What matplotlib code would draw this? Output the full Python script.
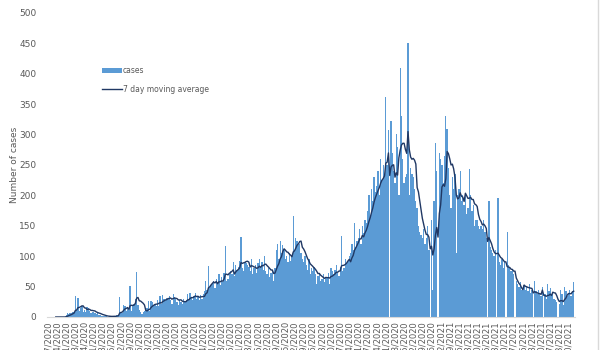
import matplotlib
matplotlib.use("Agg")
import matplotlib.pyplot as plt
import pandas as pd

# daily cases from 3/7/2020, one row per week
cases = [
    0, 0, 0, 0, 0, 0, 0,
    0, 0, 0, 0, 0, 0, 0,
    4, 6, 5, 7, 6, 8, 9,
    34, 12, 31, 10, 14, 18, 9,
    12, 8, 16, 14, 10, 7, 9,
    8, 6, 5, 7, 4, 3, 2,
    2, 1, 1, 2, 0, 1, 1,
    1, 2, 1, 2, 3, 4, 33,
    8, 6, 20, 18, 10, 14, 12,
    51, 10, 18, 22, 30, 74, 20,
    12, 8, 5, 9, 10, 12, 14,
    27, 10, 26, 25, 20, 22, 18,
    28, 18, 34, 22, 36, 30, 28,
    32, 30, 35, 28, 22, 38, 33,
    30, 25, 20, 28, 24, 22, 30,
    26, 28, 38, 30, 40, 32, 28,
    35, 40, 30, 34, 28, 36, 30,
    38, 42, 60, 45, 84, 48, 52,
    55, 60, 48, 62, 58, 70, 52,
    65, 58, 72, 116, 60, 62, 70,
    75, 70, 90, 68, 85, 78, 82,
    92, 132, 80, 75, 90, 88, 85,
    82, 76, 95, 70, 80, 85, 72,
    88, 95, 82, 90, 78, 100, 76,
    70, 80, 65, 72, 78, 60, 80,
    110, 120, 95, 125, 105, 118, 112,
    95, 100, 90, 105, 92, 100, 166,
    110, 130, 125, 118, 120, 105, 95,
    90, 100, 85, 78, 95, 70, 80,
    75, 82, 70, 55, 68, 72, 60,
    62, 70, 58, 66, 65, 72, 55,
    80, 75, 70, 78, 85, 72, 68,
    82, 133, 76, 80, 95, 88, 92,
    100, 105, 120, 110, 154, 115, 125,
    130, 145, 120, 150, 138, 160, 155,
    175, 200, 165, 210, 190, 230, 205,
    215, 240, 200, 260, 225, 250, 235,
    362, 250, 307, 0, 323, 270, 240,
    220, 301, 280, 200, 409, 330, 260,
    220, 230, 235, 451, 200, 245, 235,
    230, 210, 190, 180, 150, 140, 135,
    130, 145, 120, 130, 150, 110, 0,
    160, 44, 190, 286, 240, 0, 270,
    260, 250, 220, 265, 330, 310, 245,
    200, 180, 230, 210, 235, 105, 200,
    210, 240, 190, 200, 185, 200, 170,
    180, 243, 200, 175, 185, 150, 160,
    160, 150, 145, 150, 145, 160, 140,
    130, 0, 190, 115, 110, 105, 100,
    110, 0, 195, 90, 85, 95, 80,
    90, 0, 140, 85, 80, 75, 78,
    70, 0, 60, 55, 50, 58, 45,
    48, 52, 45, 50, 42, 55, 40,
    45, 0, 60, 42, 38, 45, 40,
    35, 50, 0, 38, 30, 55, 42,
    48, 35, 38, 30, 28, 25, 0,
    22, 45, 38, 20, 50, 42, 35,
    40, 45, 35, 42, 58,
]

start = pd.Timestamp("2020-03-07")
days = list(range(len(cases)))
moving_avg = pd.Series(cases).rolling(7).mean()

tick_days = list(range(0, len(cases), 7))
tick_labels = [(start + pd.Timedelta(days=d)).strftime("%-m/%-d/%Y") for d in tick_days]

grey = "#595959"
fig = plt.figure(figsize=(6, 3.5), dpi=100)
ax = fig.add_axes([47.3 / 600, 1 - 317 / 350, (575 - 47.3) / 600, (317 - 13) / 350])

bars = ax.bar(days, cases, width=1.0, color="#5b9bd5", linewidth=0, label="cases", zorder=2)
line, = ax.plot(days, moving_avg, color="#203864", lw=1.0, label="7 day moving average", zorder=3)

ax.set_xlim(-0.5, len(cases))
ax.set_ylim(0, 500)
ax.set_yticks(range(0, 501, 50))
ax.set_xticks(tick_days)
ax.set_xticklabels(tick_labels, rotation=90, fontsize=6, color=grey)
ax.tick_params(axis="y", labelsize=6.5, labelcolor=grey, length=0, pad=8)
ax.tick_params(axis="x", length=0, pad=3)
for s in ["top", "right", "left"]:
    ax.spines[s].set_visible(False)
ax.spines["bottom"].set_color("#d9d9d9")
fig.text(15 / 600, 1 - 165 / 350, "Number of cases", rotation=90, fontsize=6.5,
         color=grey, ha="center", va="center")

fig.legend([bars, line], ["cases", "7 day moving average"], loc="upper left",
           bbox_to_anchor=(0.158, 0.83), frameon=False,
           fontsize=5.5, labelcolor=grey, handlelength=2.6, handleheight=0.6,
           labelspacing=1.2, handletextpad=0.2)

# cell border seen at the right edge of the screenshot
fig.add_artist(plt.Line2D([598 / 600, 598 / 600], [0, 1], color="#d9d9d9", lw=1))

fig.savefig("out.png", dpi=100)
